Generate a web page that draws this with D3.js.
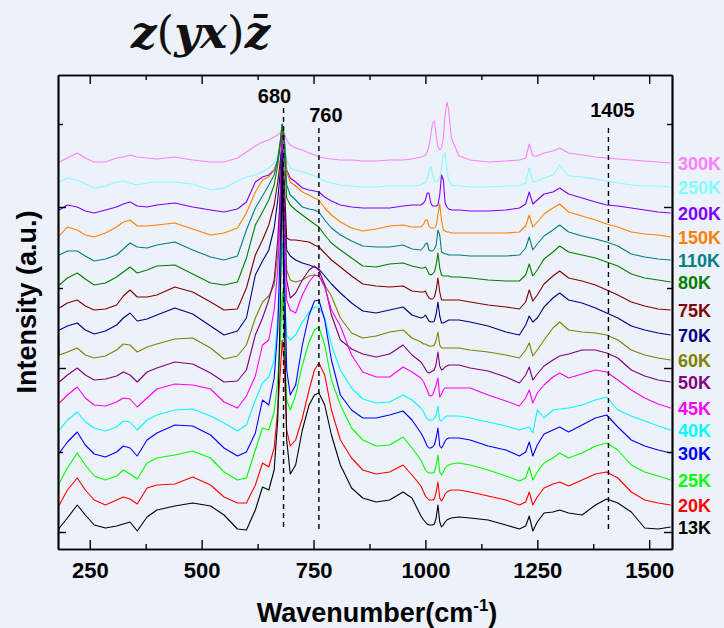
<!DOCTYPE html>
<html>
<head>
<meta charset="utf-8">
<script src="https://cdn.jsdelivr.net/npm/d3@7"></script>
<style>
  body { margin: 0; background: #edf1fa; }
  svg { display: block; }
  text { font-family: "Liberation Sans", Arial, sans-serif; font-weight: bold; }
</style>
</head>
<body>
<script>
// Raman shift grid (cm-1), shared by every spectrum
var wavenumbers = [180, 182, 200, 222, 240, 260, 285, 310, 325, 340, 356, 378, 400, 440, 480, 520, 550, 580, 600, 620,
  636, 650, 662, 670, 676, 680, 684, 690, 698, 710, 725, 740, 752, 762, 775, 790, 810, 835, 860, 890,
  920, 950, 970, 990, 996, 1000, 1004, 1008, 1012, 1016, 1020, 1024, 1028, 1032, 1036, 1040, 1044, 1048, 1052, 1058,
  1075, 1100, 1140, 1180, 1210, 1224, 1232, 1240, 1250, 1265, 1285, 1300, 1320, 1350, 1380, 1405, 1430, 1460, 1490, 1520, 1548];

var temps = ["300K", "250K", "200K", "150K", "110K", "80K", "75K", "70K", "60K", "50K", "45K", "40K", "30K", "25K", "20K", "13K"];
var colors = ["#ff80ff", "#80ffff", "#8000ff", "#ff8000", "#008080", "#008000", "#800000", "#000080",
  "#808000", "#800080", "#ff00ff", "#00ffff", "#0000ff", "#00ff00", "#ff0000", "#000000"];

// intensities (a.u., already offset for stacking)
var s300K = [387,387,391,396,391,387,387,391,392,394,392,391,390,392,389,387,387,391,397,403,407,409,412,414,417,421,417,409,404,401,399,396,394,392,391,390,389,389,388,388,389,389,390,392,393,394,397,403,414,426,428,414,402,399,401,411,434,447,439,411,393,389,387,388,389,391,405,393,393,396,398,401,396,394,392,391,390,389,388,387,386];
var s250K = [367,367,371,369,365,361,363,367,368,366,364,366,367,367,365,359,361,368,372,374,377,381,386,394,409,424,419,389,381,379,377,375,373,371,368,366,364,363,362,362,363,363,363,364,366,367,370,377,382,375,368,367,368,371,381,394,396,379,369,364,363,362,362,363,363,366,381,367,368,371,374,384,373,372,370,368,366,364,363,363,362];
var s200K = [339,339,344,342,338,336,339,342,345,347,343,342,344,346,342,339,337,340,347,367,372,374,379,389,407,424,414,379,371,367,361,359,358,357,352,348,344,342,341,341,341,343,344,344,346,349,356,356,346,343,343,343,344,354,374,369,346,342,340,339,339,338,338,339,341,345,357,345,349,355,357,361,355,351,347,344,343,341,339,337,336];
var s150K = [313,313,322,319,314,312,316,322,327,329,323,323,324,326,320,314,316,321,336,357,369,372,379,387,404,421,411,377,367,363,357,354,351,349,341,334,327,321,318,320,323,324,322,322,325,329,329,323,321,321,321,323,334,345,329,319,318,317,317,316,316,316,316,316,317,323,334,322,327,335,341,345,337,333,329,325,322,317,315,314,312];
var s110K = [294,294,298,298,293,288,290,294,300,306,302,301,304,307,299,292,289,293,319,341,353,364,374,389,409,425,414,364,354,349,342,340,339,337,329,321,314,308,303,302,302,304,300,299,302,305,306,299,298,298,300,304,319,314,297,296,295,295,294,294,294,293,293,293,294,301,312,299,305,313,319,324,317,313,310,307,303,295,292,290,289];
var s80K = [264,264,271,276,270,264,266,272,277,282,276,279,283,284,275,266,264,267,291,324,337,349,364,384,406,425,404,351,344,339,334,329,325,322,314,306,299,291,283,282,285,286,283,281,281,282,279,275,274,275,277,284,296,281,274,273,273,273,273,272,272,271,269,268,268,274,285,273,279,290,297,303,297,294,291,287,283,275,271,269,267];
var s75K = [241,241,246,249,243,239,240,244,253,259,252,252,254,262,257,247,239,240,261,294,309,324,344,367,389,409,374,311,309,309,308,307,304,302,296,289,282,273,265,263,262,263,258,257,257,258,254,251,250,250,252,259,271,257,249,249,249,249,249,249,249,247,244,242,240,247,259,248,254,265,273,278,271,268,264,259,254,247,243,240,239];
var s70K = [219,219,223,226,219,215,218,224,231,236,228,230,234,241,235,223,214,218,231,274,288,299,321,349,379,411,359,299,293,289,286,284,282,280,273,265,256,246,238,236,239,242,234,231,232,234,231,228,227,227,228,235,247,233,226,226,227,228,229,229,229,227,223,217,214,224,233,227,231,242,251,256,249,246,241,236,231,223,219,216,214];
var s60K = [219,194,197,201,194,191,193,199,205,204,197,202,205,210,211,201,190,193,204,231,247,253,264,294,354,417,349,279,269,267,269,273,274,273,264,253,231,216,211,213,217,219,211,207,205,205,204,203,203,203,204,209,217,204,201,201,201,201,201,201,201,199,197,194,191,199,206,193,199,209,221,227,219,217,216,214,209,199,194,191,189];
var s50K = [167,167,174,181,174,169,170,173,177,174,167,177,181,187,185,176,167,168,179,214,231,249,269,309,359,414,349,269,251,256,269,279,283,279,264,234,209,200,195,192,195,204,194,187,183,180,177,176,177,178,179,185,197,183,179,180,182,183,184,184,184,181,178,172,166,174,182,169,175,183,189,193,195,199,199,196,191,179,173,169,167];
var s45K = [146,146,154,162,151,144,143,147,151,150,142,151,160,165,164,160,147,141,153,173,204,209,239,279,339,409,329,249,239,236,254,267,274,273,262,239,223,194,177,172,172,182,177,171,167,163,159,154,153,154,159,164,171,152,155,159,161,161,161,161,161,161,154,148,143,151,159,146,156,164,172,176,171,175,179,177,169,159,151,145,141];
var s40K = [119,119,129,137,127,121,118,122,128,127,119,129,134,139,140,133,126,118,124,149,166,172,189,229,269,306,259,214,209,214,227,237,242,242,231,204,179,161,150,146,147,154,149,141,137,133,130,129,129,129,131,134,143,129,128,130,132,133,133,133,133,131,127,123,119,121,122,116,139,131,139,140,141,144,149,152,139,133,128,123,119];
var s30K = [96,96,107,117,104,95,92,97,103,101,93,109,116,124,123,114,101,93,97,116,149,144,171,219,309,399,299,179,154,164,204,234,248,249,229,189,154,139,131,131,134,138,129,116,111,107,103,101,101,102,104,111,121,103,101,104,108,110,111,111,111,109,103,99,93,97,107,93,104,115,119,122,117,124,131,134,122,109,103,99,96];
var s25K = [66,66,81,96,84,73,69,73,79,75,70,86,91,94,98,91,77,69,71,99,121,119,137,169,209,257,209,149,139,154,184,207,219,222,204,169,144,121,109,103,104,112,101,89,83,79,77,76,76,76,77,84,94,77,74,77,81,83,84,85,86,84,79,73,68,71,82,69,77,86,91,96,91,96,103,106,99,84,77,73,69];
var s20K = [44,44,59,71,59,49,44,49,52,50,45,61,64,65,72,64,52,46,46,64,86,82,101,139,179,209,189,119,103,109,131,159,179,186,174,139,109,91,79,75,77,84,74,63,57,53,51,49,49,49,50,57,67,51,48,51,55,57,58,59,59,57,53,49,44,47,57,44,52,61,65,67,63,69,75,77,71,57,49,46,44];
var s13K = [19,21,31,44,34,24,21,23,25,27,18,32,39,43,46,43,34,20,19,39,62,59,79,129,249,389,249,109,75,84,119,144,154,156,144,114,84,61,51,47,49,57,51,33,29,27,25,24,24,24,25,31,44,27,22,24,27,29,30,31,32,31,29,24,20,23,33,18,27,36,37,39,36,34,44,50,46,37,21,20,22];

var spectra = [s300K, s250K, s200K, s150K, s110K, s80K, s75K, s70K, s60K, s50K, s45K, s40K, s30K, s25K, s20K, s13K];

var xTicks = [250, 500, 750, 1000, 1250, 1500];
var xMinorTicks = [375, 625, 875, 1125, 1375];
var yMajorTicks = [17, 181, 342];
var yMinorTicks = [97, 261, 425];

// dashed marker lines
var markerPos = [683, 762, 1409];
var markerLabels = ["680", "760", "1405"];
var markerTop = [441, 421, 421];
var markerBottom = 18;

var W = 724, H = 628;
var margin = {top: 75, right: 52, bottom: 79, left: 58};
var width = W - margin.left - margin.right;
var height = H - margin.top - margin.bottom;

var svg = d3.select("body").append("svg")
    .attr("width", W)
    .attr("height", H);

var x = d3.scaleLinear().domain([179, 1551]).range([0, width]);
var y = d3.scaleLinear().domain([0, 474]).range([height, 0]);

// title
var title = svg.append("text")
    .attr("x", 131)
    .attr("y", 48)
    .style("font-family", "'DejaVu Serif', serif")
    .style("font-size", "45px")
    .attr("fill", "#111");
title.append("tspan").style("font-style", "italic").text("z");
title.append("tspan").style("font-weight", "normal").text("(");
title.append("tspan").style("font-style", "italic").text("yx");
title.append("tspan").style("font-weight", "normal").text(")");
title.append("tspan").style("font-style", "italic").text("z\u0304");

var g = svg.append("g")
    .attr("transform", "translate(" + margin.left + "," + margin.top + ")");

// spectra
var line = d3.line()
    .x(function(d) { return x(d[0]); })
    .y(function(d) { return y(d[1]); });

g.selectAll(".spec")
  .data(spectra)
  .enter().append("path")
    .attr("class", "spec")
    .attr("fill", "none")
    .attr("stroke", function(d, i) { return colors[i]; })
    .attr("stroke-width", 1.1)
    .attr("stroke-linejoin", "round")
    .attr("d", function(d) {
      return line(wavenumbers.map(function(w, k) { return [w, d[k]]; }));
    });

// dashed markers
markerPos.forEach(function(p, i) {
  g.append("line")
    .attr("x1", x(p)).attr("x2", x(p))
    .attr("y1", y(markerTop[i])).attr("y2", y(markerBottom))
    .attr("stroke", "#000")
    .attr("stroke-width", 1.4)
    .attr("stroke-dasharray", "5,4");
});
var labelShift = [-9, 7, 4];
var labelLift = [5, 6, 11];
markerLabels.forEach(function(t, i) {
  g.append("text")
    .attr("x", x(markerPos[i]) + labelShift[i])
    .attr("y", y(markerTop[i]) - labelLift[i])
    .attr("text-anchor", "middle")
    .style("font-size", "20px")
    .attr("fill", "#000")
    .text(t);
});

// temperature labels
temps.forEach(function(t, i) {
  var last = spectra[i][spectra[i].length - 1];
  g.append("text")
    .attr("x", width + 6)
    .attr("y", y(last) + 1)
    .attr("dy", "0.35em")
    .style("font-size", "18px")
    .attr("fill", colors[i])
    .text(t);
});

// axes
function styleAxis(sel) {
  sel.selectAll("path").attr("stroke", "#000").attr("stroke-width", 1.7);
  sel.selectAll("line").attr("stroke", "#000").attr("stroke-width", 1.4);
}

g.append("g")
    .attr("transform", "translate(0," + height + ")")
    .call(d3.axisBottom(x).tickValues(xMinorTicks).tickSize(-5).tickSizeOuter(0).tickFormat(""))
    .call(styleAxis);
var xAxis = g.append("g")
    .attr("transform", "translate(0," + height + ")")
    .call(d3.axisBottom(x).tickValues(xTicks).tickSize(-9).tickSizeOuter(0).tickPadding(13).tickFormat(d3.format("d")))
    .call(styleAxis);
xAxis.selectAll("text")
    .style("font-size", "22px")
    .style("font-family", "'Liberation Sans', Arial, sans-serif")
    .style("font-weight", "bold")
    .attr("fill", "#000");

g.append("g")
    .call(d3.axisTop(x).tickValues(xTicks).tickSize(-9).tickSizeOuter(0).tickFormat(""))
    .call(styleAxis);
g.append("g")
    .call(d3.axisTop(x).tickValues(xMinorTicks).tickSize(-5).tickSizeOuter(0).tickFormat(""))
    .call(styleAxis);

g.append("g")
    .call(d3.axisLeft(y).tickValues(yMajorTicks).tickSize(-8).tickSizeOuter(0).tickFormat(""))
    .call(styleAxis);
g.append("g")
    .call(d3.axisLeft(y).tickValues(yMinorTicks).tickSize(-5).tickSizeOuter(0).tickFormat(""))
    .call(styleAxis);
g.append("g")
    .attr("transform", "translate(" + width + ",0)")
    .call(d3.axisRight(y).tickValues(yMajorTicks).tickSize(-8).tickSizeOuter(0).tickFormat(""))
    .call(styleAxis);
g.append("g")
    .attr("transform", "translate(" + width + ",0)")
    .call(d3.axisRight(y).tickValues(yMinorTicks).tickSize(-5).tickSizeOuter(0).tickFormat(""))
    .call(styleAxis);

// axis titles
svg.append("text")
    .attr("x", 377)
    .attr("y", 622)
    .attr("text-anchor", "middle")
    .style("font-size", "27px")
    .attr("fill", "#000")
    .call(function(t) {
      t.append("tspan").text("Wavenumber(cm");
      t.append("tspan").attr("dy", -11).style("font-size", "17px").text("-1");
      t.append("tspan").attr("dy", 11).text(")");
    });

svg.append("text")
    .attr("transform", "translate(36,302) rotate(-90)")
    .attr("text-anchor", "middle")
    .style("font-size", "27px")
    .attr("fill", "#000")
    .text("Intensity (a.u.)");
</script>
</body>
</html>
